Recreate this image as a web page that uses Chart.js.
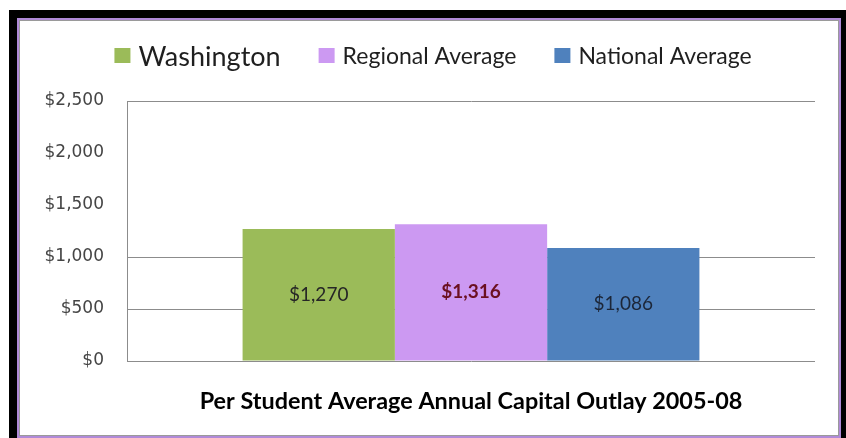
<!DOCTYPE html>
<html>
<head>
<meta charset="utf-8">
<script src="https://cdn.jsdelivr.net/npm/chart.js@4.4.1/dist/chart.umd.min.js"></script>
<style>
    html, body { margin: 0; padding: 0; background: #fff; }
    #frame { position: absolute; left: 9px; top: 10px; width: 837px; height: 428px; background: #000; }
    #inner { position: absolute; left: 17px; top: 18px; width: 820px; height: 416px;
             background: #fff; border: 2px solid #b08ad8; box-shadow: inset 0 0 0 1px #9a9a9a; }
    #wrap { position: absolute; left: 0; top: 0; width: 846px; height: 438px; }
</style>
</head>
<body>
<div id="frame"></div>
<div id="inner"></div>
<div id="wrap"><canvas id="chartOutlay" width="846" height="438"></canvas></div>
<script>
// Chart data
const categories = [''];
const seriesNames = ['Washington', 'Regional Average', 'National Average'];
const seriesValues = [1270, 1316, 1086];
const yTickValues = [0, 500, 1000, 1500, 2000, 2500];
const chartTitle = 'Per Student Average Annual Capital Outlay 2005-08';

// Styles
const seriesColors = ['#9BBB59', '#CC99F2', '#4F81BD'];
const labelColors = ['#262626', '#6b1020', '#1c2638'];
const labelWeights = ['normal', 'bold', 'normal'];
const legendFontSizes = [27, 23, 23];
const hiddenGridValues = [1500, 2000];

const money = v => '$' + Number(v).toLocaleString('en-US');

// Value labels in the middle of each bar
const barLabels = {
    id: 'barLabels',
    afterDatasetsDraw(chart) {
        const ctx = chart.ctx;
        ctx.save();
        ctx.textAlign = 'center';
        ctx.textBaseline = 'middle';
        chart.data.datasets.forEach((ds, i) => {
            chart.getDatasetMeta(i).data.forEach((bar, j) => {
                ctx.font = labelWeights[i] + ' 19px Lato';
                ctx.fillStyle = labelColors[i];
                ctx.fillText(money(ds.data[j]), bar.x, (bar.y + bar.base) / 2);
            });
        });
        ctx.restore();
    }
};

// Legend with a bigger first entry, like the original
const mixedLegend = {
    id: 'mixedLegend',
    afterDraw(chart) {
        const ctx = chart.ctx;
        const box = 16, gap = 8, spacing = 38, y = 56, center = 433;
        ctx.save();
        const widths = chart.data.datasets.map((ds, i) => {
            ctx.font = legendFontSizes[i] + 'px Lato';
            return box + gap + ctx.measureText(ds.label).width;
        });
        let x = center - (widths.reduce((a, b) => a + b, 0) + spacing * (widths.length - 1)) / 2;
        ctx.textBaseline = 'middle';
        chart.data.datasets.forEach((ds, i) => {
            ctx.fillStyle = ds.backgroundColor;
            ctx.fillRect(x, y - 8, box, 15);
            ctx.font = legendFontSizes[i] + 'px Lato';
            ctx.fillStyle = '#1f1f1f';
            ctx.fillText(ds.label, x + box + gap, y + 1);
            x += widths[i] + spacing;
        });
        ctx.restore();
    }
};

const chartOutlay = new Chart(document.getElementById('chartOutlay'), {
    type: 'bar',
    data: {
        labels: categories,
        datasets: seriesNames.map((name, i) => ({
            label: name,
            data: [seriesValues[i]],
            backgroundColor: seriesColors[i],
            categoryPercentage: 0.664,
            barPercentage: 1
        }))
    },
    options: {
        responsive: false,
        animation: false,
        layout: {
            padding: { top: 101, left: 0, right: 31, bottom: 23 }
        },
        scales: {
            x: { display: false },
            y: {
                min: 0,
                max: 2500,
                afterBuildTicks: scale => {
                    scale.ticks = yTickValues.map(v => ({ value: v }));
                },
                afterFit: scale => { scale.width = 127; },
                border: { display: true, color: '#8c8c8c', width: 1 },
                grid: {
                    drawTicks: false,
                    color: c => hiddenGridValues.includes(c.tick.value) ? 'rgba(0,0,0,0)' : '#8c8c8c'
                },
                ticks: {
                    padding: 23,
                    color: '#454545',
                    font: { family: 'DejaVu Sans', size: 17 },
                    callback: v => money(v)
                }
            }
        },
        plugins: {
            legend: { display: false },
            tooltip: { enabled: false },
            title: {
                display: true,
                text: chartTitle,
                position: 'bottom',
                fullSize: false,
                color: '#000',
                font: { family: 'Lato', size: 23.4, weight: 'bold' },
                padding: { top: 25.9, bottom: 0 }
            }
        }
    },
    plugins: [barLabels, mixedLegend]
});
</script>
</body>
</html>
